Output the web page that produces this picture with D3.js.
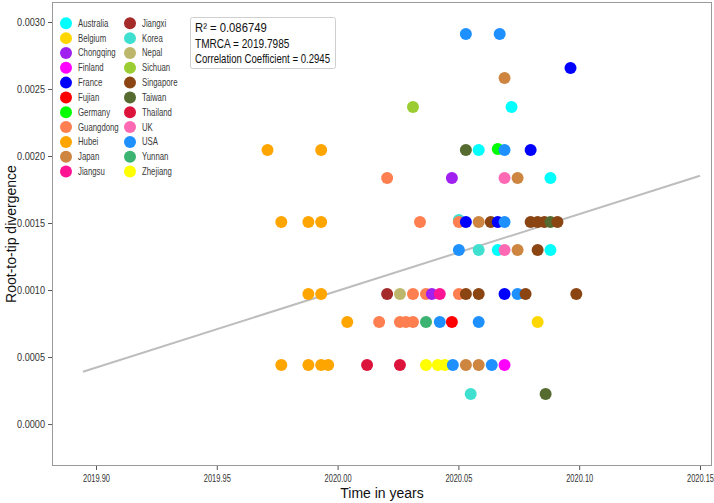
<!DOCTYPE html>
<html><head><meta charset="utf-8">
<script src="https://cdn.jsdelivr.net/npm/d3@7"></script>
<style>body{margin:0;background:#fff}svg{display:block}</style>
</head><body>
<svg id="c" width="714" height="503"></svg>
<script>
const countries = ["Australia","Belgium","Chongqing","Finland","France","Fujian","Germany","Guangdong","Hubei","Japan","Jiangsu",
  "Jiangxi","Korea","Nepal","Sichuan","Singapore","Taiwan","Thailand","UK","USA","Yunnan","Zhejiang"];
const countryColors = ["#00FFFF","#FFD700","#A020F0","#FF00FF","#0000FF","#FF0000","#00FF00","#FF7F50","#FFA500","#CD853F","#FF1493",
  "#A52A2A","#40E0D0","#BDB76B","#9ACD32","#8B4513","#556B2F","#DC143C","#FF69B4","#1E90FF","#3CB371","#FFFF00"];

const pointCountry = [
  "USA","USA",
  "France",
  "Japan",
  "Sichuan","Australia",
  "Hubei","Hubei","Taiwan","Australia","Germany","USA","France",
  "Guangdong","Chongqing","UK","Japan","Australia",
  "Hubei","Hubei","Hubei","Guangdong","Korea","Guangdong","France","Japan","Singapore","France","USA","Singapore","Singapore","Singapore","Taiwan","Singapore",
  "USA","Korea","Australia","UK","Japan","Singapore","Australia",
  "Hubei","Hubei","Jiangxi","Nepal","Guangdong","Guangdong","Chongqing","Jiangsu","Guangdong","Singapore","Singapore","France","USA","Singapore","Singapore",
  "Hubei","Guangdong","Guangdong","Guangdong","Guangdong","Yunnan","USA","Fujian","USA","Belgium",
  "Hubei","Hubei","Hubei","Hubei","Thailand","Thailand","Zhejiang","Zhejiang","Zhejiang","USA","Japan","Japan","USA","Finland",
  "Korea","Taiwan"
];
const pointTime = [
  2020.0531,2020.0671,
  2020.0964,
  2020.0691,
  2020.0312,2020.0720,
  2019.9710,2019.9932,2020.0531,2020.0584,2020.0663,2020.0691,2020.0799,
  2020.0205,2020.0473,2020.0691,2020.0745,2020.0881,
  2019.9767,2019.9879,2019.9932,2020.0341,2020.0502,2020.0502,2020.0531,2020.0584,2020.0634,2020.0663,2020.0691,2020.0799,2020.0828,2020.0856,2020.0881,2020.0910,
  2020.0502,2020.0584,2020.0663,2020.0691,2020.0745,2020.0828,2020.0881,
  2019.9879,2019.9932,2020.0205,2020.0258,2020.0312,2020.0366,2020.0390,2020.0423,2020.0502,2020.0531,2020.0584,2020.0691,2020.0745,2020.0778,2020.0988,
  2020.0040,2020.0172,2020.0258,2020.0283,2020.0312,2020.0366,2020.0423,2020.0473,2020.0584,2020.0828,
  2019.9767,2019.9879,2019.9932,2019.9961,2020.0122,2020.0258,2020.0366,2020.0415,2020.0444,2020.0477,2020.0531,2020.0584,2020.0638,2020.0691,
  2020.0551,2020.0861
];
const pointDivergence = [
  0.00291,0.00291,
  0.002657,
  0.002582,
  0.002366,0.002366,
  0.002045,0.002045,0.002045,0.002045,0.002052,0.002045,0.002045,
  0.001836,0.001836,0.001836,0.001836,0.001836,
  0.001507,0.001507,0.001507,0.001507,0.001522,0.001507,0.001507,0.001507,0.001507,0.001507,0.001507,0.001507,0.001507,0.001507,0.001507,0.001507,
  0.001299,0.001299,0.001299,0.001299,0.001299,0.001299,0.001299,
  0.000970,0.000970,0.000970,0.000970,0.000970,0.000970,0.000970,0.000970,0.000970,0.000970,0.000970,0.000970,0.000970,0.000970,0.000970,
  0.000761,0.000761,0.000761,0.000761,0.000761,0.000761,0.000761,0.000761,0.000761,0.000761,
  0.000440,0.000440,0.000440,0.000440,0.000440,0.000440,0.000440,0.000440,0.000440,0.000440,0.000440,0.000440,0.000440,0.000440,
  0.000224,0.000224
];

const xTicks = [2019.90,2019.95,2020.00,2020.05,2020.10,2020.15];
const yTicks = [0,0.0005,0.0010,0.0015,0.0020,0.0025,0.0030];
const statsLines = ["R\u00B2 = 0.086749","TMRCA = 2019.7985","Correlation Coefficient = 0.2945"];
const fitTimes = [2019.8946, 2020.15];
const fitValues = [0.000390, 0.001853];

const svg = d3.select("#c");
const W = 714, H = 503;
const m = {left:52, right:2, top:2, bottom:37};
const x = d3.scaleLinear().domain([2019.88179, 2020.15497]).range([m.left, W - m.right]);
const y = d3.scaleLinear().domain([-0.000313, 0.003149]).range([H - m.bottom, m.top]);
const color = d3.scaleOrdinal().domain(countries).range(countryColors);

const font = "'Liberation Sans', Arial, Helvetica, sans-serif";
const yAxis = svg.append("g").attr("transform", `translate(${m.left},0)`)
  .call(d3.axisLeft(y).tickValues(yTicks).tickFormat(d3.format(".4f")).tickSize(4).tickPadding(3));
const xAxis = svg.append("g").attr("transform", `translate(0,${H - m.bottom})`)
  .call(d3.axisBottom(x).tickValues(xTicks).tickFormat(d3.format(".2f")).tickSize(4).tickPadding(4));
[xAxis, yAxis].forEach(g => {
  g.select(".domain").remove();
  g.selectAll(".tick line").attr("stroke", "#555");
  g.selectAll(".tick text").attr("fill", "#333").style("font-family", font).style("font-size", "11px");
});
// condensed look of the original tick labels
const xs = 0.68, ys = 0.83;
xAxis.selectAll(".tick text").attr("transform", `scale(${xs},1)`);
yAxis.selectAll(".tick text").attr("x", -7 / ys).attr("transform", `scale(${ys},1)`);

// panel border
svg.append("rect").attr("x", m.left + 0.5).attr("y", m.top + 0.5)
  .attr("width", W - m.left - m.right - 1).attr("height", H - m.top - m.bottom - 1)
  .attr("fill", "none").attr("stroke", "#9a9a9a").attr("stroke-width", 1);

// regression line
svg.append("line")
  .attr("x1", x(fitTimes[0])).attr("y1", y(fitValues[0]))
  .attr("x2", x(fitTimes[1])).attr("y2", y(fitValues[1]))
  .attr("stroke", "#bdbdbd").attr("stroke-width", 2);

// points
svg.append("g").selectAll("circle").data(pointTime.map((t, i) => i)).join("circle")
  .attr("cx", i => x(pointTime[i])).attr("cy", i => y(pointDivergence[i]))
  .attr("r", 6).attr("fill", i => color(pointCountry[i]));

// legend
const leg = svg.append("g");
countries.forEach((c, i) => {
  const col = Math.floor(i / 11), row = i % 11;
  const cx = 66 + col * 64, cy = 23.3 + row * 14.83;
  leg.append("circle").attr("cx", cx).attr("cy", cy).attr("r", 6).attr("fill", color(c));
  leg.append("text").attr("transform", `translate(${cx + 12},${cy + 3.4}) scale(0.78,1)`).text(c)
    .style("font-family", font).style("font-size", "10px").attr("fill", "#3a3a3a");
});

// stats box
svg.append("rect").attr("x", 190.5).attr("y", 17.5).attr("width", 145).attr("height", 51)
  .attr("fill", "#fff").attr("stroke", "#cfcfcf").attr("rx", 2);
const statScale = [0.94, 0.84, 0.80];
statsLines.forEach((s, i) => {
  svg.append("text").attr("transform", `translate(195,${32 + i * 15.7}) scale(${statScale[i]},1)`).text(s)
    .style("font-family", font).style("font-size", "12px").attr("fill", "#111");
});

// axis titles
svg.append("text").attr("x", (m.left + W - m.right) / 2).attr("y", 498).attr("text-anchor", "middle")
  .text("Time in years").style("font-family", font).style("font-size", "14px").attr("fill", "#111");
svg.append("text").attr("transform", `translate(16,${(m.top + H - m.bottom) / 2}) rotate(-90)`).attr("text-anchor", "middle")
  .text("Root-to-tip divergence").style("font-family", font).style("font-size", "14px").attr("fill", "#111");
</script>
</body></html>
